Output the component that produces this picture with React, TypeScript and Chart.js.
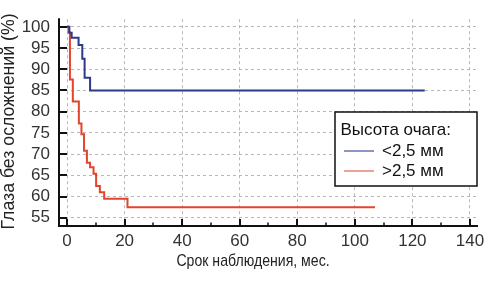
import React, { useEffect, useRef } from 'react';
import { Chart, registerables } from 'chart.js';

Chart.register(...registerables);

const LEGEND_TITLE = 'Высота очага:';
const X_TITLE = 'Срок наблюдения, мес.';
const Y_TITLE = 'Глаза без осложнений (%)';
const SERIES_LABELS = ['<2,5 мм', '>2,5 мм'];
const SERIES_COLORS = ['#2c3a8a', '#e4432c'];
const LEGEND_COLORS = ['#4b5aa6', '#e3705e'];

const lowTimes = [0, 0.8, 1.6, 4.0, 5.3, 6.1, 8.0, 124.3];
const lowSurv = [100, 98.6, 97.4, 95.7, 92.5, 88.0, 85.0, 85.0];

const highTimes = [0, 0.5, 1.0, 2.0, 4.1, 5.0, 5.9, 6.9, 8.0, 9.2, 10.1, 11.4, 12.9, 21.0, 107.0];
const highSurv = [100, 98.7, 87.6, 82.4, 77.2, 74.7, 70.8, 68.0, 66.9, 65.4, 62.5, 61.0, 59.5, 57.5, 57.5];

const xTickValues = [0, 20, 40, 60, 80, 100, 120, 140];
const xMinorValues = [10, 30, 50, 70, 90, 110, 130];
const yTickValues = [55, 60, 65, 70, 75, 80, 85, 90, 95, 100];

const FONT = "'Liberation Sans', Arial, sans-serif";

const decorPlugin = {
  id: 'decor',
  afterDatasetsDraw(chart: any) {
    const { ctx, chartArea } = chart;
    const xs = chart.scales.x;
    const ys = chart.scales.y;
    const { left, right, top, bottom } = chartArea;
    ctx.save();
    ctx.strokeStyle = '#111';
    ctx.lineWidth = 2;
    ctx.beginPath();
    ctx.moveTo(left, top - 1);
    ctx.lineTo(left, bottom);
    ctx.lineTo(right, bottom);
    ctx.stroke();
    ctx.beginPath();
    yTickValues.forEach((v) => {
      const p = Math.round(ys.getPixelForValue(v));
      ctx.moveTo(left, p);
      ctx.lineTo(left + 8, p);
    });
    xTickValues.forEach((v) => {
      const p = Math.round(xs.getPixelForValue(v));
      ctx.moveTo(p, bottom);
      ctx.lineTo(p, bottom - 7);
    });
    ctx.stroke();
    ctx.lineWidth = 1.5;
    ctx.beginPath();
    xMinorValues.forEach((v) => {
      const p = Math.round(xs.getPixelForValue(v));
      ctx.moveTo(p, bottom);
      ctx.lineTo(p, bottom - 3.5);
    });
    ctx.stroke();
    ctx.restore();
  },
  afterDraw(chart: any) {
    const { ctx } = chart;
    ctx.save();
    ctx.fillStyle = '#222';
    ctx.textAlign = 'center';
    ctx.textBaseline = 'middle';
    // x title
    ctx.save();
    ctx.font = `15px ${FONT}`;
    ctx.translate(253, 261.5);
    ctx.scale(0.94, 1.12);
    ctx.fillText(X_TITLE, 0, 0);
    ctx.restore();
    // y title
    ctx.save();
    ctx.font = `17.7px ${FONT}`;
    ctx.translate(9, 121.5);
    ctx.rotate(-Math.PI / 2);
    ctx.fillText(Y_TITLE, 0, 0);
    ctx.restore();
    // legend box
    ctx.font = `17px ${FONT}`;
    ctx.fillStyle = '#fff';
    ctx.fillRect(335, 112, 142, 74);
    ctx.strokeStyle = '#111';
    ctx.lineWidth = 1.5;
    ctx.strokeRect(335, 112, 142, 74);
    ctx.fillStyle = '#111';
    ctx.textAlign = 'left';
    ctx.textBaseline = 'alphabetic';
    ctx.fillText(LEGEND_TITLE, 340.5, 135);
    const rows = [151, 171];
    SERIES_LABELS.forEach((lab, i) => {
      ctx.strokeStyle = LEGEND_COLORS[i];
      ctx.lineWidth = 1.3;
      ctx.beginPath();
      ctx.moveTo(344, rows[i]);
      ctx.lineTo(374, rows[i]);
      ctx.stroke();
      ctx.fillText(lab, 382, rows[i] + 4.5);
    });
    ctx.restore();
  },
};

export default function App() {
  const ref = useRef<HTMLCanvasElement>(null);
  useEffect(() => {
    if (!ref.current) return;
    const chart = new Chart(ref.current, {
      type: 'line',
      data: {
        datasets: [
          {
            label: SERIES_LABELS[0],
            data: lowTimes.map((t, i) => ({ x: t, y: lowSurv[i] })),
            borderColor: SERIES_COLORS[0],
            borderWidth: 2,
            pointRadius: 0,
            stepped: 'before',
            fill: false,
          },
          {
            label: SERIES_LABELS[1],
            data: highTimes.map((t, i) => ({ x: t, y: highSurv[i] })),
            borderColor: SERIES_COLORS[1],
            borderWidth: 2,
            pointRadius: 0,
            stepped: 'before',
            fill: false,
          },
        ],
      },
      options: {
        responsive: false,
        animation: false,
        layout: { padding: { left: 0, right: 17, top: 6, bottom: 0 } },
        plugins: { legend: { display: false }, tooltip: { enabled: false } },
        scales: {
          x: {
            type: 'linear',
            min: -2.8,
            max: 142.8,
            afterFit: (s: any) => { s.height = 55; },
            afterBuildTicks: (s: any) => { s.ticks = xTickValues.map((v) => ({ value: v })); },
            ticks: {
              includeBounds: false,
              padding: 5,
              color: '#333',
              font: { family: FONT, size: 17 },
              maxRotation: 0,
              autoSkip: false,
            },
            grid: { color: '#b8b8b8', lineWidth: 1, drawTicks: false },
            border: { display: false, dash: [3, 3] },
          },
          y: {
            type: 'linear',
            min: 53.07,
            max: 101.8,
            afterFit: (s: any) => { s.width = 59; },
            afterBuildTicks: (s: any) => { s.ticks = yTickValues.map((v) => ({ value: v })); },
            ticks: {
              includeBounds: false,
              padding: 9,
              color: '#333',
              font: { family: FONT, size: 17 },
              autoSkip: false,
            },
            grid: { color: '#b8b8b8', lineWidth: 1, drawTicks: false },
            border: { display: false, dash: [3, 3] },
          },
        },
      },
      plugins: [decorPlugin],
    });
    return () => chart.destroy();
  }, []);
  return (
    <div style={{ position: 'absolute', left: 0, top: 0, width: 495, height: 281, background: '#fff' }}>
      <canvas ref={ref} width={495} height={281} style={{ display: 'block' }} />
    </div>
  );
}
